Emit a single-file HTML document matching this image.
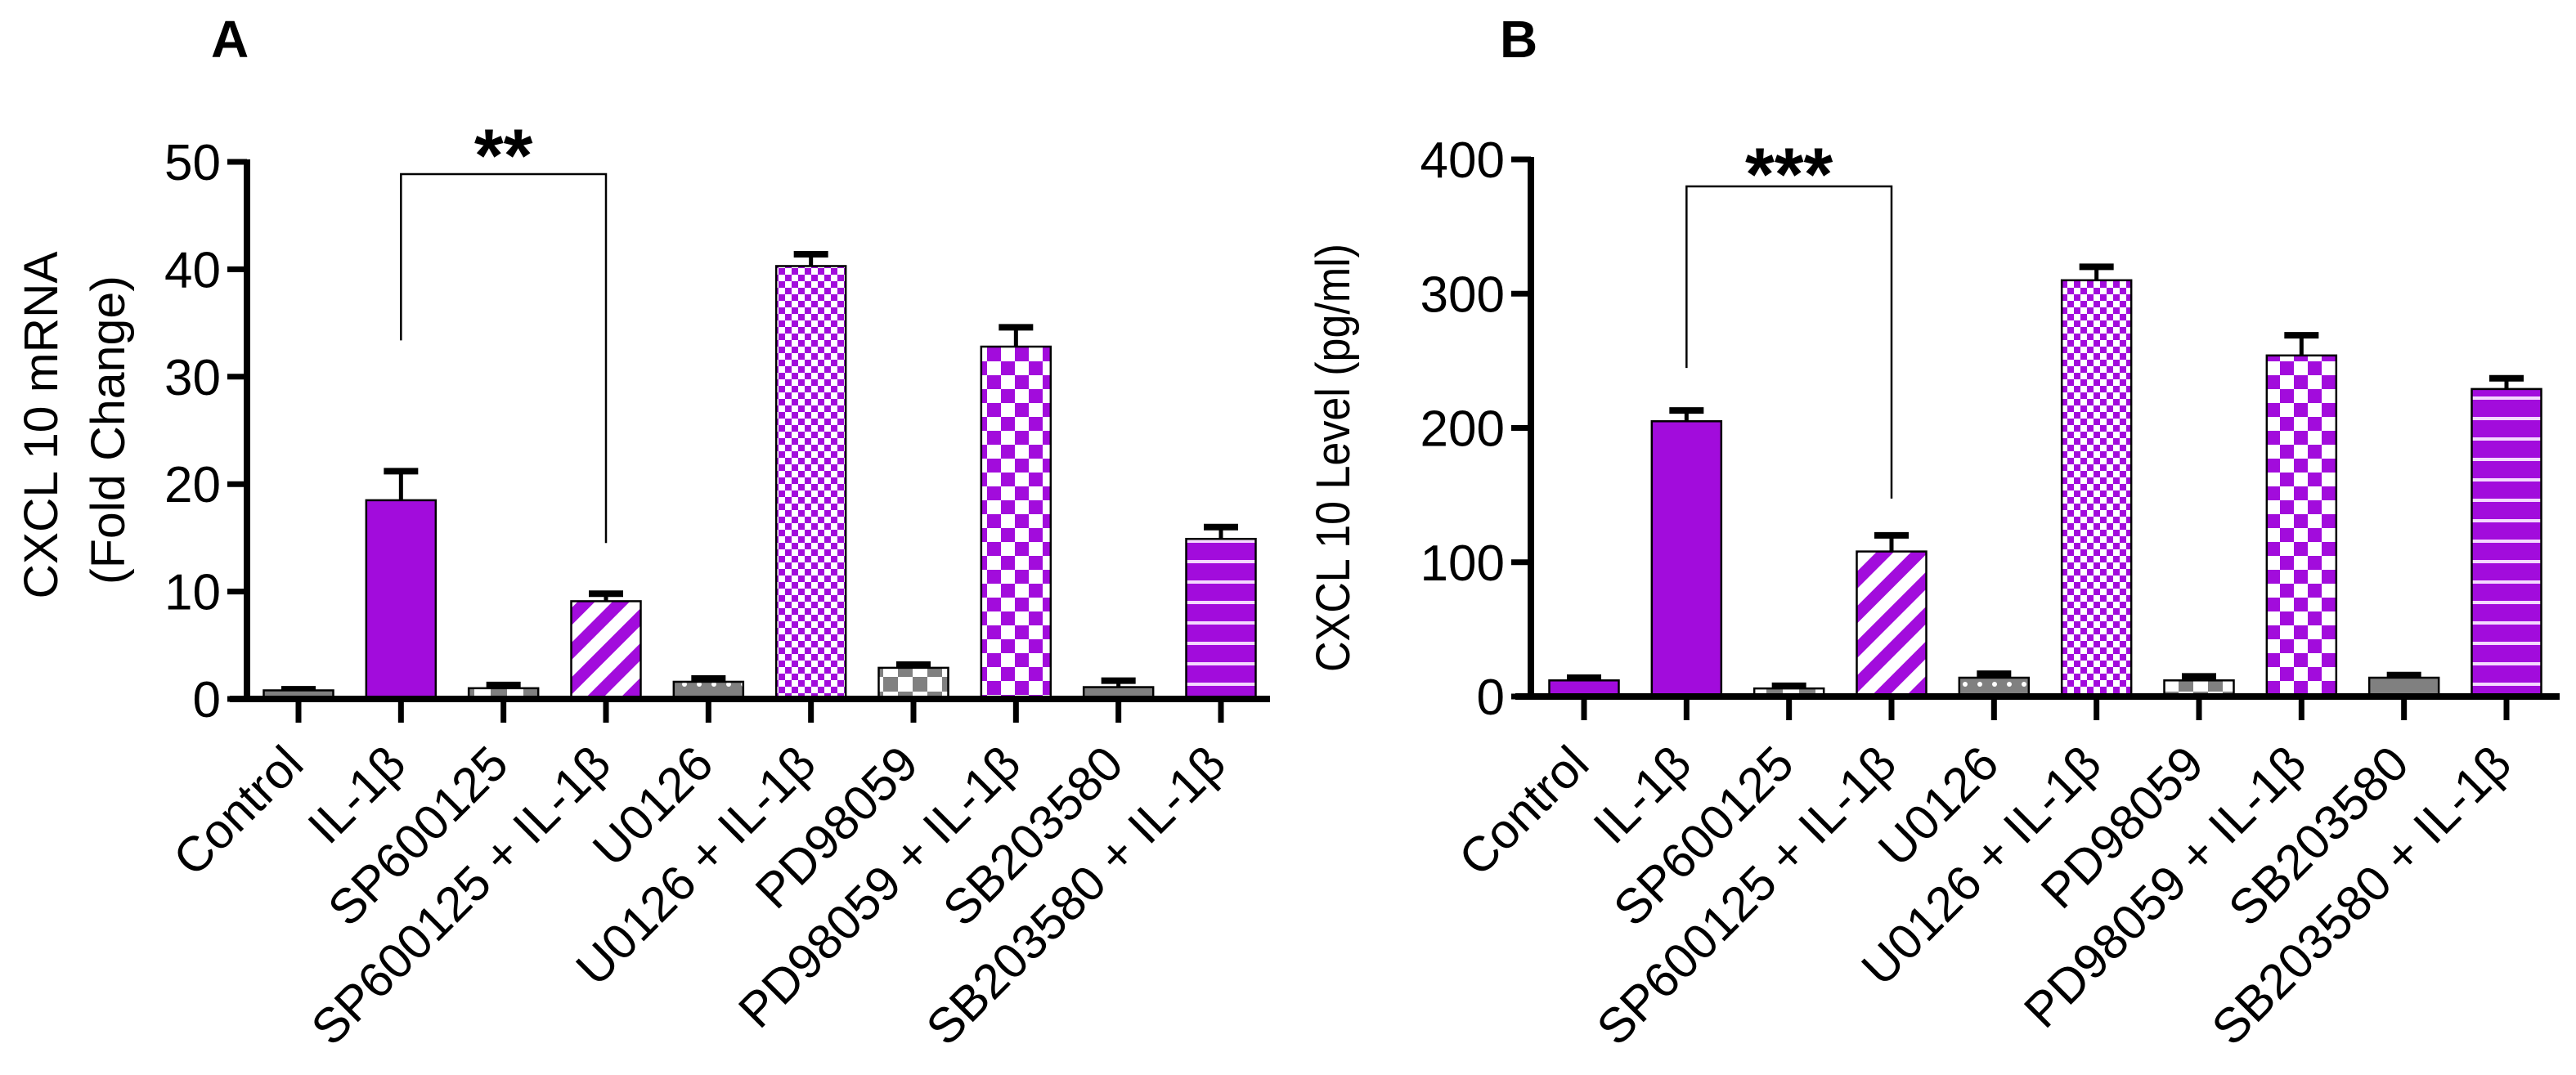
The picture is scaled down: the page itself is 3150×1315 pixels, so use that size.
<!DOCTYPE html>
<html><head><meta charset="utf-8">
<style>
html,body{margin:0;padding:0;background:#fff;}
svg{display:block;font-family:"Liberation Sans",Arial,sans-serif;}
</style></head>
<body>
<svg id="fig" width="3150" height="1315" viewBox="0 0 3150 1315" xmlns="http://www.w3.org/2000/svg">
<defs>
  <pattern id="p-stripe" patternUnits="userSpaceOnUse" width="30" height="30" patternTransform="rotate(45)">
    <rect width="30" height="30" fill="#fff"/><rect width="15" height="30" fill="#A20CDC"/>
  </pattern>
  <pattern id="p-fine" patternUnits="userSpaceOnUse" width="16" height="16">
    <rect width="16" height="16" fill="#fff"/><rect width="8" height="8" fill="#A20CDC"/><rect x="8" y="8" width="8" height="8" fill="#A20CDC"/>
  </pattern>
  <pattern id="p-med" patternUnits="userSpaceOnUse" width="34" height="34">
    <rect width="34" height="34" fill="#fff"/><rect width="17" height="17" fill="#A20CDC"/><rect x="17" y="17" width="17" height="17" fill="#A20CDC"/>
  </pattern>
  <pattern id="p-hline" patternUnits="userSpaceOnUse" width="25" height="25">
    <rect width="25" height="25" fill="#A20CDC"/><rect y="10" width="25" height="4" fill="#f4d8ff"/>
  </pattern>
  <pattern id="p-gcheck" patternUnits="userSpaceOnUse" width="36" height="36">
    <rect width="36" height="36" fill="#fff"/><rect width="18" height="18" fill="#808080"/><rect x="18" y="18" width="18" height="18" fill="#808080"/>
  </pattern>
  <pattern id="p-gdot" patternUnits="userSpaceOnUse" width="18" height="18">
    <rect width="18" height="18" fill="#808080"/><circle cx="9" cy="9" r="3" fill="#fff"/>
  </pattern>
  <pattern id="p-gmix" patternUnits="userSpaceOnUse" width="40" height="40">
    <rect width="40" height="40" fill="#808080"/><rect x="20" y="0" width="20" height="20" fill="#fff"/><rect x="0" y="20" width="14" height="20" fill="#fff"/>
  </pattern>
</defs>
<g id="panelA"></g>
<g id="panelB"></g>
</svg>
<script>
const categories = ["Control","IL-1β","SP600125","SP600125 + IL-1β","U0126","U0126 + IL-1β","PD98059","PD98059 + IL-1β","SB203580","SB203580 + IL-1β"];
const valuesA = [0.8, 18.5, 1.0, 9.1, 1.6, 40.3, 2.9, 32.8, 1.1, 14.9];
const errorsA = [0.1, 2.7, 0.3, 0.7, 0.3, 1.1, 0.3, 1.8, 0.6, 1.1];
const valuesB = [12, 205, 6, 108, 14, 310, 12, 254, 14, 229];
const errorsB = [2, 8, 2, 12, 3, 10, 3, 15, 2, 8];
const ticksA = [0, 10, 20, 30, 40, 50];
const ticksB = [0, 100, 200, 300, 400];
const fillsA = ["#808080","#A20CDC","url(#p-gmix)","url(#p-stripe)","url(#p-gdot)","url(#p-fine)","url(#p-gcheck)","url(#p-med)","#808080","url(#p-hline)"];
const fillsB = ["#A20CDC","#A20CDC","url(#p-gmix)","url(#p-stripe)","url(#p-gdot)","url(#p-fine)","url(#p-gcheck)","url(#p-med)","#808080","url(#p-hline)"];

const NS = "http://www.w3.org/2000/svg";
function mk(tag, attrs, parent, txt){
  const e = document.createElementNS(NS, tag);
  for (const k in attrs) e.setAttribute(k, attrs[k]);
  if (txt !== undefined) e.textContent = txt;
  parent.appendChild(e);
  return e;
}

function drawPanel(g, cfg){
  const yScale = v => cfg.y0 - (v - cfg.dmin) / (cfg.dmax - cfg.dmin) * (cfg.y0 - cfg.yTop);
  const step = (cfg.xLast - cfg.xFirst) / (categories.length - 1);
  const xScale = i => cfg.xFirst + i * step;
  const bw = 85;

  let t = mk('text', {x: cfg.letterX, y: 70, 'font-size': 64, 'font-weight': 'bold'}, g, cfg.letter);
  
  

  cfg.titles.forEach((tt, k) => {
    const e = mk('text', {x: 0, y: 0, 'font-size': 58, 'text-anchor': 'middle',
      transform: `translate(${tt.x},${tt.cy}) rotate(-90)`, textLength: tt.len, lengthAdjust: 'spacingAndGlyphs'}, g, tt.text);
    
    
  });

  cfg.ticks.forEach(v => {
    const y = yScale(v);
    const l = mk('line', {x1: cfg.axisX - 24, x2: cfg.axisX, y1: y, y2: y, stroke: '#000', 'stroke-width': 7}, g);
    
    
    const e = mk('text', {x: cfg.axisX - 32, y: y + 22, 'font-size': 62, 'text-anchor': 'end'}, g, String(v));
    
    
  });

  cfg.values.forEach((v, i) => {
    const cx = xScale(i), yt = yScale(v), ye = yScale(v + cfg.errors[i]);
    const eb = mk('line', {x1: cx, x2: cx, y1: yt, y2: ye, stroke: '#000', 'stroke-width': 5}, g);
    
    
    const cap = mk('line', {x1: cx - 21, x2: cx + 21, y1: ye, y2: ye, stroke: '#000', 'stroke-width': 8}, g);
    
    
    const r = mk('rect', {x: cx - bw/2, y: yt, width: bw, height: Math.max(cfg.y0 - yt, 0), fill: cfg.fills[i], stroke: '#000', 'stroke-width': 2.5}, g);
    
    
    const tk = mk('line', {x1: cx, x2: cx, y1: cfg.y0, y2: cfg.y0 + 29, stroke: '#000', 'stroke-width': 7}, g);
    
    
    const lx = cx + 9, ly = 938;
    const lab = mk('text', {x: 0, y: 0, 'font-size': 60, 'text-anchor': 'end', transform: `translate(${lx},${ly}) rotate(-45)`}, g, categories[i]);
    
    
  });

  const ya = mk('line', {x1: cfg.axisX, x2: cfg.axisX, y1: cfg.yTop - 3, y2: cfg.y0 + 4, stroke: '#000', 'stroke-width': 8}, g);
  
  
  const xa = mk('line', {x1: cfg.xStart, x2: cfg.xEnd, y1: cfg.y0, y2: cfg.y0, stroke: '#000', 'stroke-width': 8}, g);
  
  

  const x1 = xScale(1), x2 = xScale(3);
  const yL = yScale(cfg.values[1] + cfg.errors[1]) - cfg.legGapL;
  const yR = yScale(cfg.values[3] + cfg.errors[3]) - cfg.legGapR;
  const br = mk('path', {d: `M${x1},${yL} V${cfg.brY} H${x2} V${yR}`, fill: 'none', stroke: '#000', 'stroke-width': 2.5}, g);
  
  
  const st = mk('text', {x: (x1 + x2) / 2, y: cfg.starY, 'font-size': 92, 'font-weight': 'bold', 'text-anchor': 'middle'}, g, cfg.stars);
  
  
}

drawPanel(document.getElementById('panelA'), {
  letter: 'A', letterX: 258, values: valuesA, errors: errorsA, fills: fillsA, ticks: ticksA,
  dmin: 0, dmax: 50, y0: 855, yTop: 198, axisX: 302, xFirst: 365, xLast: 1493, xStart: 281, xEnd: 1553,
  titles: [{text: 'CXCL 10 mRNA', x: 70, cy: 520, len: 425}, {text: '(Fold Change)', x: 152, cy: 526, len: 378}],
  brY: 213, legGapL: 160, legGapR: 62, starY: 222, stars: '**'
});
drawPanel(document.getElementById('panelB'), {
  letter: 'B', letterX: 1834, values: valuesB, errors: errorsB, fills: fillsB, ticks: ticksB,
  dmin: 0, dmax: 400, y0: 852, yTop: 195, axisX: 1872, xFirst: 1937, xLast: 3065, xStart: 1853, xEnd: 3130,
  titles: [{text: 'CXCL 10 Level (pg/ml)', x: 1650, cy: 560, len: 524}],
  brY: 228, legGapL: 52, legGapR: 45, starY: 245, stars: '***'
});
</script>
</body></html>
